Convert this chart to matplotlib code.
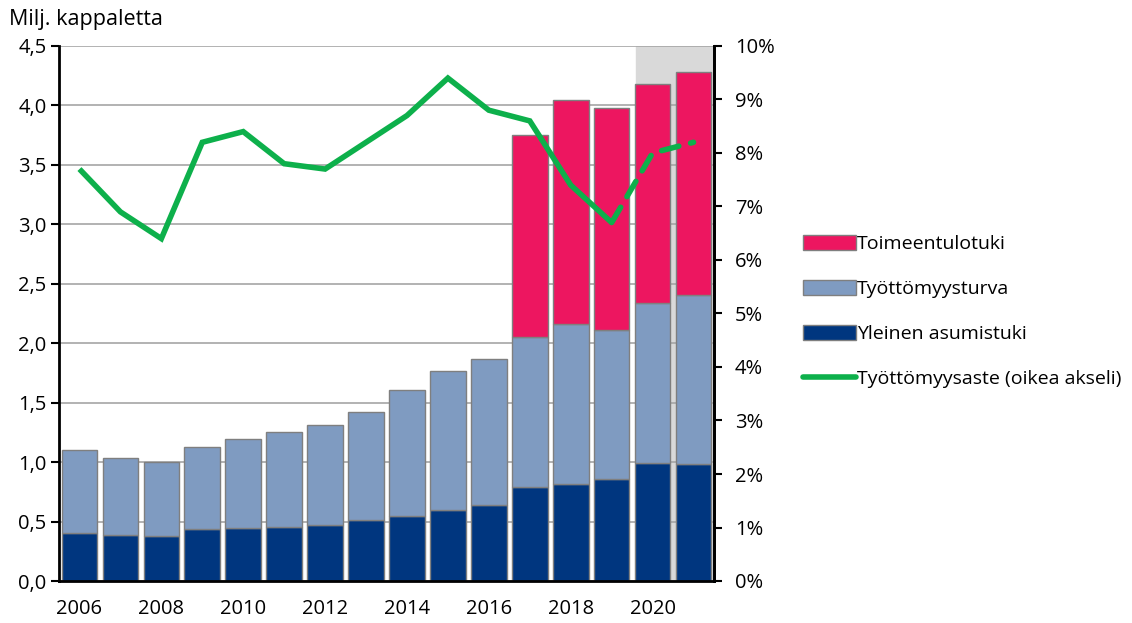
import numpy as np
import matplotlib.pyplot as plt
from matplotlib.patches import Patch
from matplotlib.lines import Line2D
from matplotlib.ticker import FuncFormatter

plt.rcParams["font.family"] = ["Open Sans", "DejaVu Sans"]

# ------------------------------------------------------------
#  Data
# ------------------------------------------------------------
years = list(range(2006, 2022))
asumistuki = [0.40, 0.385, 0.378, 0.437, 0.448, 0.451, 0.471, 0.516,
              0.55, 0.60, 0.642, 0.79, 0.813, 0.858, 0.99, 0.98]
tyottomyysturva = [0.70, 0.652, 0.62, 0.69, 0.749, 0.802, 0.841, 0.905,
                   1.06, 1.166, 1.225, 1.26, 1.347, 1.252, 1.35, 1.425]
toimeentulotuki = [0, 0, 0, 0, 0, 0, 0, 0,
                   0, 0, 0, 1.70, 1.885, 1.87, 1.84, 1.875]
tyottomyysaste = [7.7, 6.9, 6.4, 8.2, 8.4, 7.8, 7.7, 8.2,
                  8.7, 9.4, 8.8, 8.6, 7.4, 6.7, 8.0, 8.2]
forecast_start = 2019   # line is dashed from here on
shade_from = 13.6       # grey forecast band (category index)

c_pink = "#ED1660"
c_light = "#7F9BC1"
c_dark = "#00367F"
c_green = "#0DB04B"
c_edge = "#7F7F7F"

fs = 14.5

# ------------------------------------------------------------
#  Plot
# ------------------------------------------------------------
fig = plt.figure(figsize=(11.32, 6.23), dpi=100)
ax = fig.add_axes([59 / 1132, 42 / 623, 655 / 1132, 535 / 623])

x = np.arange(len(years))
w = 0.87

ax.axvspan(shade_from, len(years) - 0.5, color="#D9D9D9", zorder=0)

b1 = np.array(asumistuki)
b2 = b1 + np.array(tyottomyysturva)
ax.bar(x, asumistuki, w, color=c_dark, edgecolor=c_edge, linewidth=1, zorder=2)
ax.bar(x, tyottomyysturva, w, bottom=b1, color=c_light, edgecolor=c_edge,
       linewidth=1, zorder=2)
mask = np.array(toimeentulotuki) > 0
ax.bar(x[mask], np.array(toimeentulotuki)[mask], w, bottom=b2[mask],
       color=c_pink, edgecolor=c_edge, linewidth=1, zorder=2)

ax.set_xlim(-0.5, len(years) - 0.5)
ax.set_ylim(0, 4.5)
ax.set_yticks(np.arange(0, 4.51, 0.5))
ax.yaxis.set_major_formatter(FuncFormatter(lambda v, p: f"{v:.1f}".replace(".", ",")))
ax.set_xticks(x[::2])
ax.set_xticklabels([str(y) for y in years[::2]])
ax.tick_params(axis="x", length=0, pad=13, labelsize=fs)
ax.tick_params(axis="y", direction="out", length=6, width=1.5, labelsize=fs, pad=3)
ax.grid(axis="y", color="#A6A6A6", linewidth=1.2, zorder=1)
ax.set_axisbelow(True)
ax.spines["top"].set_visible(False)
for s in ["left", "bottom", "right"]:
    ax.spines[s].set_linewidth(2)
    ax.spines[s].set_color("black")

fig.text(9 / 1132, 1 - 19 / 623, "Milj. kappaletta", fontsize=15.5,
         va="center", ha="left")

# Unemployment rate on the right axis
ax2 = ax.twinx()
k = years.index(forecast_start)
ax2.plot(x[:k + 1], tyottomyysaste[:k + 1], color=c_green, linewidth=4,
         solid_capstyle="butt", solid_joinstyle="miter")
ax2.plot(x[k:], tyottomyysaste[k:], color=c_green, linewidth=4,
         linestyle=(0, (3.2, 2.2)), dash_capstyle="round")
ax2.set_ylim(0, 10)
ax2.set_yticks(range(0, 11))
ax2.yaxis.set_major_formatter(FuncFormatter(lambda v, p: f"{v:.0f}%"))
ax2.tick_params(axis="y", direction="out", length=6, width=1.5, labelsize=fs, pad=9)
for s in ["top", "left", "bottom"]:
    ax2.spines[s].set_visible(False)
ax2.spines["right"].set_linewidth(2)

# Legend
handles = [
    Patch(facecolor=c_pink, edgecolor=c_edge),
    Patch(facecolor=c_light, edgecolor=c_edge),
    Patch(facecolor=c_dark, edgecolor=c_edge),
    Line2D([0], [0], color=c_green, linewidth=4, solid_capstyle="round"),
]
labels = ["Toimeentulotuki", "Työttömyysturva", "Yleinen asumistuki",
          "Työttömyysaste (oikea akseli)"]
fig.legend(handles, labels, loc="upper left",
           bbox_to_anchor=(793 / 1132, 1 - 225 / 623), frameon=False,
           fontsize=14, handlelength=2.75, handleheight=0.85,
           handletextpad=0.05, labelspacing=1.36, borderpad=0)

fig.savefig("out.png", dpi=100)
